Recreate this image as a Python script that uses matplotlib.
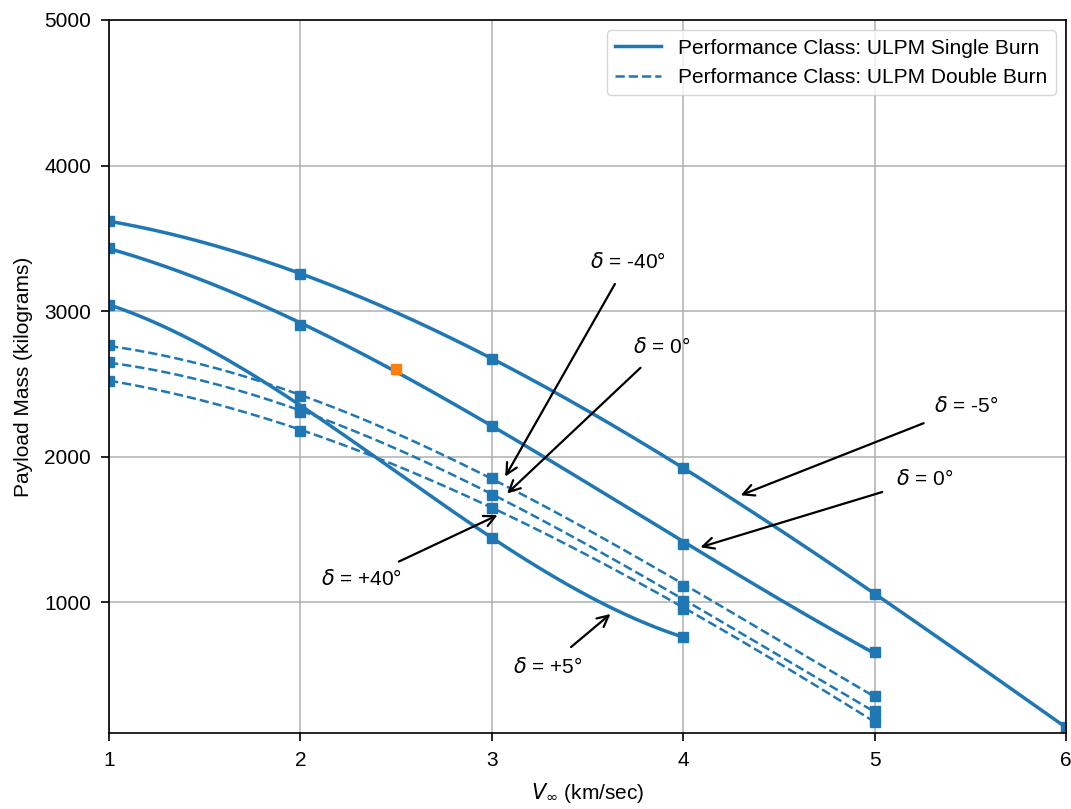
import numpy as np
import matplotlib
matplotlib.use('Agg')
import matplotlib.pyplot as plt
from matplotlib.lines import Line2D

plt.rcParams['font.family'] = ['Liberation Sans', 'DejaVu Sans']

# V_inf (km/sec), read every 0.5, markers sit on the whole numbers
v_long = [1, 1.5, 2, 2.5, 3, 3.5, 4, 4.5, 5, 5.5, 6]
v_five = [1, 1.5, 2, 2.5, 3, 3.5, 4, 4.5, 5]
v_four = [1, 1.5, 2, 2.5, 3, 3.5, 4]

# single burn
single_m5 = [3616, 3472, 3257, 2988, 2672, 2315, 1924, 1503, 1055, 600, 140]
single_0 = [3433, 3205, 2903, 2590, 2210, 1842, 1398, 1012, 655]
single_p5 = [3038, 2770, 2330, 1905, 1441, 1046, 758]

# double burn
double_m40 = [2765, 2621, 2416, 2164, 1855, 1503, 1112, 737, 353]
double_0 = [2649, 2514, 2303, 2070, 1736, 1405, 1009, 629, 250]
double_p40 = [2518, 2393, 2175, 1935, 1643, 1343, 952, 577, 179]

extra_pt = (2.5, 2600)

# (label, text position, arrow tip)
notes = [
    (r'$\delta$ = -40°', (3.71, 3340), (3.07, 1862)),
    (r'$\delta$ = 0°', (3.89, 2750), (3.08, 1746)),
    (r'$\delta$ = -5°', (5.48, 2345), (4.30, 1734)),
    (r'$\delta$ = 0°', (5.26, 1844), (4.09, 1377)),
    (r'$\delta$ = +40°', (2.32, 1158), (3.03, 1597)),
    (r'$\delta$ = +5°', (3.29, 554), (3.62, 918)),
]

blue = '#1f77b4'


def smooth(xs, ys):
    # cubic fit so the line runs as a smooth curve through the read values
    c = np.polyfit(xs, ys, 3)
    xf = np.linspace(xs[0], xs[-1], 300)
    return xf, np.polyval(c, xf)


fig = plt.figure(figsize=(10.71, 8.09), dpi=100)
ax = fig.add_axes([0.1018, 0.0939, 0.8935, 0.8814])

for xs, ys in [(v_long, single_m5), (v_five, single_0), (v_four, single_p5)]:
    xf, yf = smooth(xs, ys)
    ax.plot(xf, yf, '-', color=blue, lw=2.5)
    ax.plot(xs[::2], ys[::2], 's', color=blue, ms=6.5)

for ys in [double_m40, double_0, double_p40]:
    xf, yf = smooth(v_five, ys)
    ax.plot(xf, yf, '--', color=blue, lw=1.8)
    ax.plot(v_five[::2], ys[::2], 's', color=blue, ms=6.5)

ax.plot([extra_pt[0]], [extra_pt[1]], 's', color='#ff7f0e', ms=6.5)

for txt, xy_txt, xy_tip in notes:
    ax.annotate(txt, xy=xy_tip, xytext=xy_txt, fontsize=15, ha='center', va='center',
                arrowprops=dict(arrowstyle='->', color='black', lw=1.6,
                                mutation_scale=20, shrinkA=8, shrinkB=0))

ax.set_xlim(1, 6)
ax.set_ylim(100, 5000)
ax.set_yticks([1000, 2000, 3000, 4000, 5000])
ax.grid(True, color='#b0b0b0', lw=1.1)
ax.tick_params(labelsize=15, width=1.2, length=6, pad=7)
for s in ax.spines.values():
    s.set_linewidth(1.2)

ax.set_xlabel(r'$V_\infty$ (km/sec)', fontsize=15, labelpad=8)
ax.set_ylabel('Payload Mass (kilograms)', fontsize=15, labelpad=8)

handles = [Line2D([], [], color=blue, lw=2.5, ls='-'),
           Line2D([], [], color=blue, lw=1.8, ls='--')]
ax.legend(handles, ['Performance Class: ULPM Single Burn',
                    'Performance Class: ULPM Double Burn'],
          loc='upper right', fontsize=15, handlelength=2.2)

fig.savefig('out.png', dpi=100)
